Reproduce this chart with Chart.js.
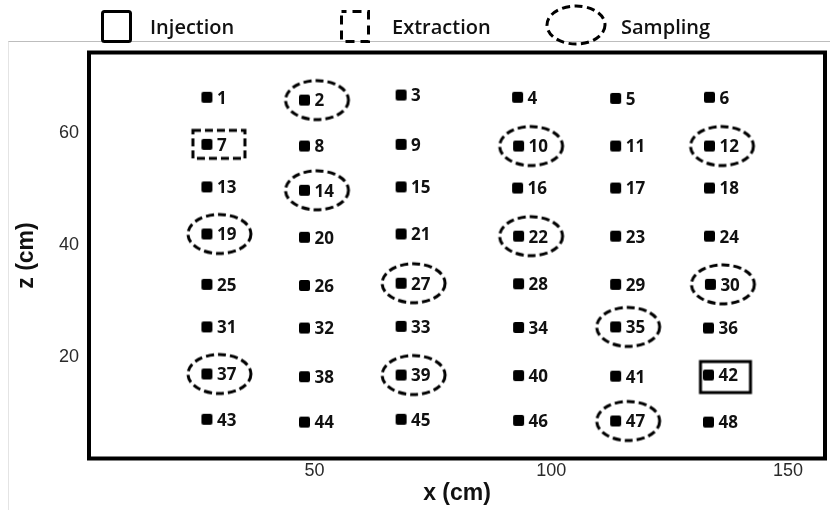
<!DOCTYPE html>
<html>
<head>
<meta charset="utf-8">
<script src="https://cdn.jsdelivr.net/npm/chart.js@4/dist/chart.umd.min.js"></script>
<style>
  html, body { margin: 0; padding: 0; background: #fff; }
  #wrap { position: relative; width: 830px; height: 510px; overflow: hidden; }
  #panel { position: absolute; left: 8px; top: 41px; width: 822px; height: 469px;
           box-sizing: border-box; border-top: 1px solid #bdbdbd; border-left: 1px solid #e4e4e4; }
  #chart { position: absolute; left: 0; top: 0; }
  #keys { position: absolute; left: 0; top: 0; width: 830px; height: 50px; }
  .key { position: absolute; top: 17px; font-family: "Open Sans", sans-serif; font-weight: 600;
         font-size: 20px; line-height: 20px; color: #111; white-space: nowrap; }
</style>
</head>
<body>
<div id="wrap">
  <div id="panel"></div>
  <canvas id="chart" width="830" height="510"></canvas>
  <svg id="keys" width="830" height="50" xmlns="http://www.w3.org/2000/svg">
    <rect x="102.5" y="11.5" width="28" height="30" rx="2" fill="none" stroke="#000" stroke-width="3"/>
    <rect x="341.5" y="11.5" width="27" height="30" fill="none" stroke="#000" stroke-width="3" stroke-dasharray="9 6" stroke-dashoffset="4"/>
    <ellipse cx="576" cy="25" rx="29" ry="19" fill="none" stroke="#000" stroke-width="3" stroke-dasharray="8 4.5"/>
  </svg>
  <div class="key" id="k0" style="left:150px"></div>
  <div class="key" id="k1" style="left:392px"></div>
  <div class="key" id="k2" style="left:621px"></div>
</div>
<script>
// Well numbers and their positions in the tank (cm)
const wellIds = [
  1, 2, 3, 4, 5, 6,
  7, 8, 9, 10, 11, 12,
  13, 14, 15, 16, 17, 18,
  19, 20, 21, 22, 23, 24,
  25, 26, 27, 28, 29, 30,
  31, 32, 33, 34, 35, 36,
  37, 38, 39, 40, 41, 42,
  43, 44, 45, 46, 47, 48
];
const wellX = [
  27.3, 47.9, 68.3, 92.9, 113.6, 133.4,
  27.3, 47.9, 68.3, 93.1, 113.6, 133.4,
  27.3, 47.9, 68.3, 92.9, 113.6, 133.4,
  27.3, 47.9, 68.3, 93.1, 113.6, 133.4,
  27.3, 47.9, 68.3, 93.1, 113.6, 133.6,
  27.3, 47.9, 68.3, 93.1, 113.6, 133.2,
  27.3, 47.9, 68.3, 93.1, 113.6, 133.2,
  27.3, 47.9, 68.3, 93.1, 113.6, 133.2
];
const wellZ = [
  66.4, 65.9, 66.8, 66.4, 66.2, 66.4,
  58.0, 57.7, 58.0, 57.7, 57.7, 57.7,
  50.4, 49.8, 50.4, 50.2, 50.2, 50.2,
  42.0, 41.4, 42.0, 41.6, 41.6, 41.6,
  33.0, 32.8, 33.2, 33.1, 33.0, 33.0,
  25.4, 25.2, 25.5, 25.3, 25.4, 25.2,
  17.0, 16.5, 16.8, 16.7, 16.6, 16.8,
  8.9, 8.4, 8.9, 8.7, 8.6, 8.4
];

// Well roles
const injectionWells = [42];
const extractionWells = [7];
const samplingWells = [2, 10, 12, 14, 19, 22, 27, 30, 35, 37, 39, 47];
const roleNames = ['Injection', 'Extraction', 'Sampling'];

// Axis ticks
const xTicks = [50, 100, 150];
const zTicks = [20, 40, 60];

roleNames.forEach((name, i) => { document.getElementById('k' + i).textContent = name; });

const wellPoint = id => {
  const i = wellIds.indexOf(id);
  return { x: wellX[i], y: wellZ[i] };
};

// Small filled square used for every well
function wellSquare(side, r) {
  const c = document.createElement('canvas');
  c.width = side + 2; c.height = side + 2;
  const g = c.getContext('2d');
  g.fillStyle = '#000';
  g.beginPath();
  g.roundRect(1, 1, side, side, r);
  g.fill();
  return c;
}

// Outline drawn around a well and its number; the image is centred on the well
function outlineMarker(shape, w, h, dx, dy, dash) {
  const lw = 3;
  const cw = Math.ceil(2 * (Math.abs(dx) + w / 2 + lw));
  const chh = Math.ceil(2 * (Math.abs(dy) + h / 2 + lw));
  const c = document.createElement('canvas');
  c.width = cw; c.height = chh;
  const g = c.getContext('2d');
  g.strokeStyle = '#000';
  g.lineWidth = lw;
  g.setLineDash(dash);
  const cx = cw / 2 + dx, cy = chh / 2 + dy;
  g.beginPath();
  if (shape === 'ellipse') {
    g.ellipse(cx, cy, w / 2, h / 2, 0, 0, Math.PI * 2);
  } else {
    g.rect(cx - w / 2, cy - h / 2, w, h);
  }
  g.stroke();
  return c;
}

const wellMark = wellSquare(11, 2);
const samplingMark = outlineMarker('ellipse', 63, 39, 12.5, 0, [8, 4]);
const extractionMark = outlineMarker('rect', 52, 28, 12, 0, [8, 4]);
const injectionMark = outlineMarker('rect', 50, 31, 17, 2, []);

// Well numbers written beside each well
const wellLabels = {
  id: 'wellLabels',
  afterDatasetsDraw(chart) {
    const ctx = chart.ctx;
    const meta = chart.getDatasetMeta(0);
    ctx.save();
    ctx.font = '700 17px "Open Sans", sans-serif';
    ctx.fillStyle = '#111';
    ctx.textAlign = 'left';
    ctx.textBaseline = 'middle';
    meta.data.forEach((el, i) => {
      ctx.fillText(String(wellIds[i]), el.x + 10, el.y + 1.5);
    });
    ctx.restore();
  }
};

// Tank outline around the plot area
const tankFrame = {
  id: 'tankFrame',
  afterDraw(chart) {
    const { left, top, right, bottom } = chart.chartArea;
    const ctx = chart.ctx;
    ctx.save();
    ctx.strokeStyle = '#000';
    ctx.lineWidth = 4;
    ctx.strokeRect(left, top, right - left, bottom - top);
    ctx.restore();
  }
};

const tickFont = { family: '"Liberation Sans", Arial, sans-serif', size: 18 };
const titleFont = { family: '"Liberation Sans", Arial, sans-serif', size: 23, weight: 'bold' };

new Chart(document.getElementById('chart'), {
  type: 'scatter',
  data: {
    datasets: [
      {
        label: 'Wells',
        data: wellIds.map(wellPoint),
        pointStyle: wellMark,
        pointRadius: 5,
        borderWidth: 0
      },
      {
        label: roleNames[0],
        data: injectionWells.map(wellPoint),
        pointStyle: injectionMark,
        pointRadius: 1,
        borderWidth: 0
      },
      {
        label: roleNames[1],
        data: extractionWells.map(wellPoint),
        pointStyle: extractionMark,
        pointRadius: 1,
        borderWidth: 0
      },
      {
        label: roleNames[2],
        data: samplingWells.map(wellPoint),
        pointStyle: samplingMark,
        pointRadius: 1,
        borderWidth: 0
      }
    ]
  },
  options: {
    responsive: false,
    animation: false,
    events: [],
    layout: { padding: { left: 10, right: 3, top: 52.5, bottom: 0 } },
    plugins: {
      legend: { display: false },
      tooltip: { enabled: false }
    },
    scales: {
      x: {
        type: 'linear',
        min: 2.4,
        max: 157.8,
        afterBuildTicks: s => { s.ticks = xTicks.map(v => ({ value: v })); },
        afterFit: s => { s.height = 51.5; },
        grid: { display: false, drawTicks: false },
        border: { display: false },
        ticks: { font: tickFont, color: '#2a2a2a', padding: 2, maxRotation: 0, autoSkip: false },
        title: { display: true, text: 'x (cm)', font: titleFont, color: '#111', padding: { top: 0, bottom: 3 } }
      },
      y: {
        type: 'linear',
        min: 1.9,
        max: 74.4,
        afterBuildTicks: s => { s.ticks = zTicks.map(v => ({ value: v })); },
        afterFit: s => { s.width = 79; },
        grid: { display: false, drawTicks: false },
        border: { display: false },
        ticks: { font: tickFont, color: '#2a2a2a', padding: 10, autoSkip: false },
        title: { display: true, text: 'z (cm)', font: titleFont, color: '#111', padding: { top: 3, bottom: 0 } }
      }
    }
  },
  plugins: [wellLabels, tankFrame]
});
</script>
</body>
</html>
